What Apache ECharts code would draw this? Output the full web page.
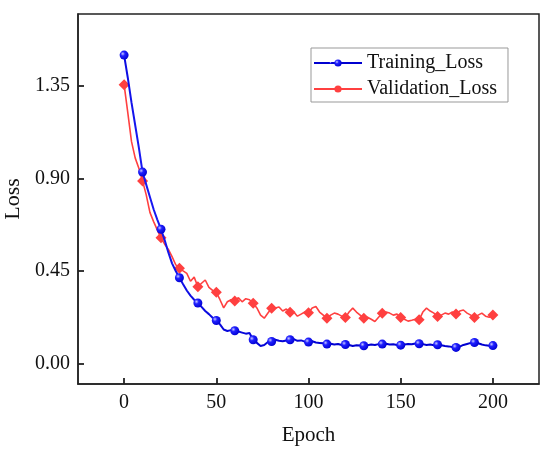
<!DOCTYPE html>
<html>
<head>
<meta charset="utf-8">
<script src="https://cdn.jsdelivr.net/npm/echarts@6/dist/echarts.min.js"></script>
<style>
  html, body { margin: 0; padding: 0; background: #fff; }
  #main { width: 550px; height: 454px; }
</style>
</head>
<body>
<div id="main"></div>
<script>
// epochs, every 2
var epochs = [];
for (var i = 0; i <= 200; i += 2) epochs.push(i);

var trainLoss = [1.50, 1.39, 1.27, 1.16, 1.05, 0.931, 0.87, 0.81, 0.75, 0.70,
  0.653, 0.60, 0.54, 0.487, 0.45, 0.417, 0.385, 0.355, 0.33, 0.31,
  0.294, 0.275, 0.255, 0.24, 0.222, 0.209, 0.19, 0.165, 0.158, 0.162,
  0.159, 0.155, 0.15, 0.145, 0.148, 0.115, 0.10, 0.085, 0.09, 0.104,
  0.107, 0.115, 0.11, 0.108, 0.112, 0.115, 0.118, 0.11, 0.112, 0.106,
  0.104, 0.108, 0.102, 0.10, 0.098, 0.094, 0.096, 0.092, 0.095, 0.09,
  0.092, 0.09, 0.085, 0.088, 0.087, 0.086, 0.089, 0.092, 0.09, 0.094,
  0.094, 0.096, 0.092, 0.093, 0.09, 0.089, 0.092, 0.095, 0.093, 0.097,
  0.096, 0.094, 0.09, 0.092, 0.089, 0.091, 0.088, 0.085, 0.083, 0.08,
  0.078, 0.082, 0.09, 0.095, 0.10, 0.102, 0.098, 0.092, 0.088, 0.086,
  0.087];

var valLoss = [1.356, 1.22, 1.08, 1.00, 0.95, 0.888, 0.82, 0.735, 0.69, 0.65,
  0.611, 0.58, 0.555, 0.52, 0.48, 0.463, 0.45, 0.438, 0.40, 0.42,
  0.373, 0.39, 0.406, 0.37, 0.355, 0.346, 0.31, 0.27, 0.30, 0.31,
  0.304, 0.32, 0.30, 0.315, 0.31, 0.293, 0.27, 0.235, 0.22, 0.245,
  0.269, 0.27, 0.275, 0.255, 0.265, 0.249, 0.25, 0.23, 0.24, 0.25,
  0.247, 0.27, 0.277, 0.25, 0.235, 0.22, 0.235, 0.245, 0.24, 0.23,
  0.223, 0.25, 0.269, 0.25, 0.235, 0.22, 0.225, 0.215, 0.204, 0.225,
  0.244, 0.25, 0.245, 0.235, 0.24, 0.223, 0.215, 0.206, 0.21, 0.215,
  0.212, 0.25, 0.269, 0.255, 0.245, 0.228, 0.235, 0.245, 0.24, 0.25,
  0.241, 0.255, 0.26, 0.245, 0.235, 0.223, 0.235, 0.245, 0.23, 0.225,
  0.236];

var xTicks = [0, 50, 100, 150, 200];
var yTicks = [0, 0.45, 0.9, 1.35];

function pairs(ys) {
  return epochs.map(function (e, k) { return [e, ys[k]]; });
}

var font = 'Liberation Serif, Times New Roman, serif';

var myChart = echarts.init(document.getElementById('main'));
var option = {
  animation: false,
  grid: {
    left: 78, top: 14, right: 11, bottom: 70,
    outerBoundsMode: 'none',
    show: true, borderColor: '#222', borderWidth: 1.5
  },
  legend: {
    orient: 'vertical',
    left: 311, top: 48,
    padding: [5, 11, 3, 2],
    itemGap: 6,
    itemWidth: 48, itemHeight: 9,
    borderColor: '#999', borderWidth: 1,
    textStyle: { fontFamily: font, fontSize: 20, lineHeight: 20, color: '#111' },
    data: ['Training_Loss', 'Validation_Loss']
  },
  xAxis: {
    type: 'value',
    min: -25, max: 225,
    name: 'Epoch', nameLocation: 'middle', nameGap: 41,
    nameTextStyle: { fontFamily: font, fontSize: 21, color: '#111' },
    axisLine: { onZero: false, lineStyle: { color: '#222', width: 1.5 } },
    axisTick: { inside: true, length: 6, customValues: xTicks, lineStyle: { color: '#222', width: 1.8 } },
    axisLabel: { customValues: xTicks, fontFamily: font, fontSize: 20, color: '#111', margin: 9 },
    splitLine: { show: false }
  },
  yAxis: {
    type: 'value',
    min: -0.1, max: 1.7,
    name: 'Loss', nameLocation: 'middle', nameGap: 50,
    nameTextStyle: { fontFamily: font, fontSize: 22, color: '#111' },
    axisLine: { show: true, onZero: false, lineStyle: { color: '#222', width: 1.5 } },
    axisTick: { show: true, inside: true, length: 6, customValues: yTicks, lineStyle: { color: '#222', width: 1.8 } },
    axisLabel: {
      customValues: yTicks, fontFamily: font, fontSize: 20, color: '#111', margin: 8,
      formatter: function (v) { return v.toFixed(2); }
    },
    splitLine: { show: false }
  },
  series: [
    {
      name: 'Training_Loss',
      type: 'line',
      data: pairs(trainLoss),
      color: '#0000ff',
      lineStyle: { width: 2 },
      symbol: function (v) { return v[0] % 10 === 0 ? 'circle' : 'none'; },
      symbolSize: 9,
      showAllSymbol: true,
      itemStyle: {
        color: new echarts.graphic.RadialGradient(0.35, 0.35, 0.7, [
          { offset: 0, color: '#c8c8ff' },
          { offset: 0.35, color: '#2020ff' },
          { offset: 1, color: '#0000d0' }
        ])
      },
      z: 3
    },
    {
      name: 'Validation_Loss',
      type: 'line',
      data: pairs(valLoss),
      color: '#ff4040',
      lineStyle: { width: 1.6 },
      symbol: function (v) { return v[0] % 10 === 0 ? 'diamond' : 'none'; },
      symbolSize: 11,
      showAllSymbol: true,
      itemStyle: { color: '#ff4040' },
      z: 2
    }
  ]
};
myChart.setOption(option);
window.addEventListener('resize', function () {
  myChart.resize();
});
</script>
</body>
</html>
